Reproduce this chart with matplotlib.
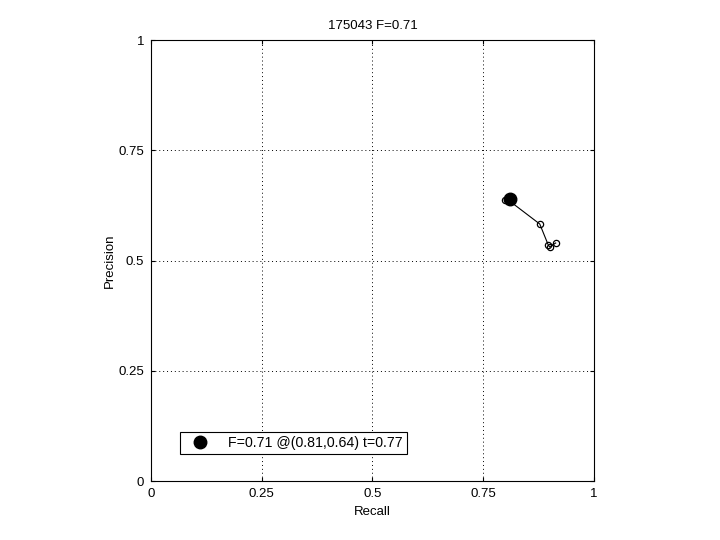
import numpy as np
import matplotlib
matplotlib.use("Agg")
import matplotlib.pyplot as plt

# PR curve points for image 175043
recall = [0.800, 0.810, 0.878, 0.897, 0.900, 0.914]
precision = [0.637, 0.635, 0.583, 0.536, 0.531, 0.540]

best_r, best_p, best_t, best_f = 0.81, 0.64, 0.77, 0.71
img_id = "175043"

ticks = [0, 0.25, 0.5, 0.75, 1]
tick_labels = ["0", "0.25", "0.5", "0.75", "1"]

plt.rcParams["font.family"] = ["Liberation Sans", "DejaVu Sans"]
plt.rcParams["font.size"] = 9.5

fig = plt.figure(figsize=(7.2, 5.4), dpi=100)
ax = fig.add_axes([0.2097, 0.109, 0.615, 0.8167])

ax.plot(recall, precision, "k-", lw=0.8)
ax.plot(recall, precision, "ko", ms=4.5, mfc="none", mew=0.9)
ax.plot(best_r, best_p, "ko", ms=9, mfc="k",
        label=f"F={best_f:.2f} @({best_r:.2f},{best_p:.2f}) t={best_t:.2f}")

ax.set_xlim(0, 1)
ax.set_ylim(0, 1)
ax.set_xticks(ticks)
ax.set_xticklabels(tick_labels)
ax.set_yticks(ticks)
ax.set_yticklabels(tick_labels)
ax.tick_params(direction="in", length=3, width=0.8, top=True, right=True, pad=5)
ax.grid(True, color="k", linestyle=(0, (1, 3)), lw=0.7)
for s in ax.spines.values():
    s.set_linewidth(0.8)

ax.set_xlabel("Recall", labelpad=4)
ax.set_ylabel("Precision", labelpad=2)
ax.set_title(f"{img_id} F={best_f:.2f}", fontsize=9.5, pad=8)

leg = ax.legend(loc="lower left", bbox_to_anchor=(0.065, 0.061), fancybox=False,
                framealpha=1, edgecolor="k", borderpad=0.3, handletextpad=0.9,
                handlelength=2.2, fontsize=10.2, borderaxespad=0)
leg.get_frame().set_linewidth(0.8)

fig.savefig("out.png", dpi=100)
